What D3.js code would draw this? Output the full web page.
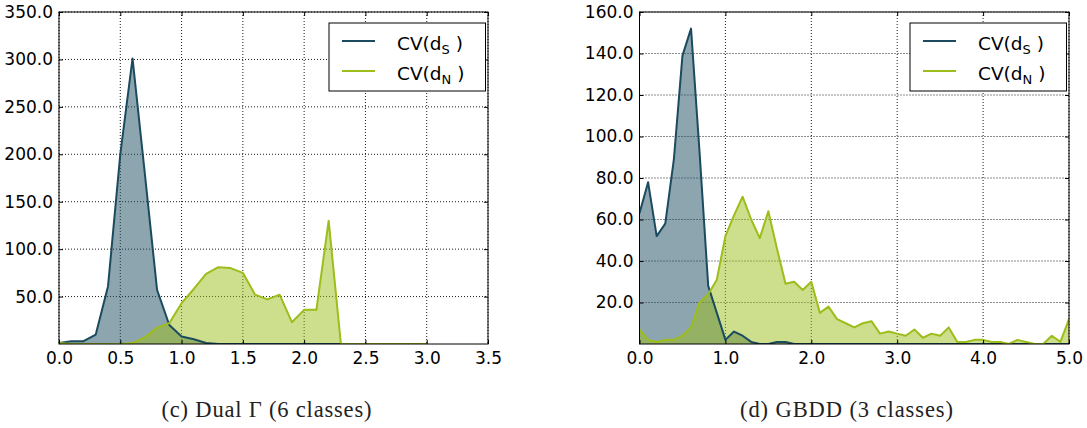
<!DOCTYPE html>
<html>
<head>
<meta charset="utf-8">
<script src="https://cdn.jsdelivr.net/npm/d3@7"></script>
<style>
  html, body { margin: 0; padding: 0; background: #fff; }
  svg { display: block; }
</style>
</head>
<body>
<script>
const w = 1087;
const h = 428;

// left panel: Dual Gamma (6 classes)
const binsLeft = [0.0, 0.1, 0.2, 0.3, 0.4, 0.5, 0.6, 0.7, 0.8, 0.9,
    1.0, 1.1, 1.2, 1.3, 1.4, 1.5, 1.6, 1.7, 1.8, 1.9,
    2.0, 2.1, 2.2, 2.3, 2.4, 2.5, 2.6, 2.7, 2.8, 2.9, 3.0];
const cvSLeft = [1, 3, 3, 10, 61, 200, 301, 180, 57, 20,
    8, 5, 1, 0, 0, 0, 0, 0, 0, 0,
    0, 0, 0, 0, 0, 0, 0, 0, 0, 0, 0];
const cvNLeft = [1, 0, 0, 0, 0, 0, 1, 7, 17, 22,
    43, 58, 74, 81, 80, 75, 52, 47, 52, 23,
    36, 36, 130, 0, 0, 0, 0, 0, 0, 0, 0];
const xTicksLeft = [0.0, 0.5, 1.0, 1.5, 2.0, 2.5, 3.0, 3.5];
const yTicksLeft = [50, 100, 150, 200, 250, 300, 350];

// right panel: GBDD (3 classes)
const binsRight = [0.0, 0.1, 0.2, 0.3, 0.4, 0.5, 0.6, 0.7, 0.8, 0.9,
    1.0, 1.1, 1.2, 1.3, 1.4, 1.5, 1.6, 1.7, 1.8, 1.9,
    2.0, 2.1, 2.2, 2.3, 2.4, 2.5, 2.6, 2.7, 2.8, 2.9,
    3.0, 3.1, 3.2, 3.3, 3.4, 3.5, 3.6, 3.7, 3.8, 3.9,
    4.0, 4.1, 4.2, 4.3, 4.4, 4.5, 4.6, 4.7, 4.8, 4.9, 5.0];
const cvSRight = [63, 78, 52, 58, 89, 139, 152, 92, 28, 15,
    2, 6, 4, 1, 0, 0, 1, 1, 0, 0,
    0, 0, 0, 0, 0, 0, 0, 0, 0, 0,
    0, 0, 0, 0, 0, 0, 0, 0, 0, 0,
    0, 0, 0, 0, 0, 0, 0, 0, 0, 0, 0];
const cvNRight = [7, 2, 1, 2, 2, 4, 8, 20, 24, 31,
    52, 62, 71, 60, 51, 64, 46, 29, 30, 26,
    30, 15, 18, 12, 10, 8, 10, 11, 5, 6,
    5, 4, 7, 3, 5, 4, 8, 1, 1, 2,
    2, 1, 1, 0, 2, 1, 0, 0, 4, 1, 12];
const xTicksRight = [0, 1, 2, 3, 4, 5];
const yTicksRight = [20, 40, 60, 80, 100, 120, 140, 160];

const seriesNames = ["S", "N"];
const captions = ["(c) Dual \u0393 (6 classes)", "(d) GBDD (3 classes)"];

const blue = "#1b4b5e";
const green = "#9cbd1a";

const svg = d3.select("body").append("svg").attr("width", w).attr("height", h);

drawPanel({
    left: 59, right: 488, top: 12, bottom: 344,
    bins: binsLeft, s: cvSLeft, n: cvNLeft,
    xMax: 3.5, yMax: 350, xTicks: xTicksLeft, yTicks: yTicksLeft,
    caption: captions[0], captionX: 266.5, captionLen: 210
});

drawPanel({
    left: 639.5, right: 1069, top: 12, bottom: 344,
    bins: binsRight, s: cvSRight, n: cvNRight,
    xMax: 5, yMax: 160, xTicks: xTicksRight, yTicks: yTicksRight,
    caption: captions[1], captionX: 846.5, captionLen: 213
});

function drawPanel(p) {
    const xScale = d3.scaleLinear().domain([0, p.xMax]).range([p.left, p.right]);
    const yScale = d3.scaleLinear().domain([0, p.yMax]).range([p.bottom, p.top]);
    const g = svg.append("g");

    // grid
    g.selectAll(".vgrid")
        .data(p.xTicks)
        .enter()
        .append("line")
        .attr("x1", d => xScale(d)).attr("x2", d => xScale(d))
        .attr("y1", p.top).attr("y2", p.bottom)
        .attr("stroke", "#000").attr("stroke-width", 0.9)
        .attr("stroke-dasharray", "1,2");
    g.selectAll(".hgrid")
        .data(p.yTicks)
        .enter()
        .append("line")
        .attr("x1", p.left).attr("x2", p.right)
        .attr("y1", d => yScale(d)).attr("y2", d => yScale(d))
        .attr("stroke", "#000").attr("stroke-width", 0.9)
        .attr("stroke-dasharray", "1,2");

    const area = d3.area()
        .x((d, i) => xScale(p.bins[i]))
        .y0(yScale(0))
        .y1(d => yScale(d));
    const line = d3.line()
        .x((d, i) => xScale(p.bins[i]))
        .y(d => yScale(d));

    const clip = "clip" + Math.round(p.left);
    svg.append("clipPath").attr("id", clip)
        .append("rect")
        .attr("x", p.left).attr("y", p.top)
        .attr("width", p.right - p.left).attr("height", p.bottom - p.top);
    const plot = g.append("g").attr("clip-path", "url(#" + clip + ")");

    plot.append("path").datum(p.s).attr("d", area)
        .attr("fill", blue).attr("fill-opacity", 0.5);
    plot.append("path").datum(p.n).attr("d", area)
        .attr("fill", green).attr("fill-opacity", 0.5);
    plot.append("path").datum(p.s).attr("d", line)
        .attr("fill", "none").attr("stroke", blue).attr("stroke-width", 2)
        .attr("stroke-linejoin", "round");
    plot.append("path").datum(p.n).attr("d", line)
        .attr("fill", "none").attr("stroke", green).attr("stroke-width", 2)
        .attr("stroke-linejoin", "round");

    // axes, ticks pointing inwards (matplotlib style)
    const xAxis = d3.axisBottom(xScale).tickValues(p.xTicks)
        .tickFormat(d3.format(".1f")).tickSizeInner(-4).tickSizeOuter(0).tickPadding(8);
    const xAxisTop = d3.axisTop(xScale).tickValues(p.xTicks)
        .tickFormat("").tickSizeInner(-4).tickSizeOuter(0);
    const yAxis = d3.axisLeft(yScale).tickValues(p.yTicks)
        .tickFormat(d3.format(".1f")).tickSizeInner(-4).tickSizeOuter(0).tickPadding(6);
    const yAxisRight = d3.axisRight(yScale).tickValues(p.yTicks)
        .tickFormat("").tickSizeInner(-4).tickSizeOuter(0);

    const axes = [
        [xAxis, "translate(0," + p.bottom + ")"],
        [xAxisTop, "translate(0," + p.top + ")"],
        [yAxis, "translate(" + p.left + ",0)"],
        [yAxisRight, "translate(" + p.right + ",0)"]
    ];
    axes.forEach(a => {
        const ax = g.append("g").attr("transform", a[1]).call(a[0]);
        ax.select(".domain").remove();
        ax.selectAll("line").attr("stroke", "#000");
        ax.selectAll("text")
            .attr("font-family", "DejaVu Sans")
            .attr("font-size", 17)
            .attr("fill", "#000");
    });

    // frame
    g.append("rect")
        .attr("x", p.left).attr("y", p.top)
        .attr("width", p.right - p.left).attr("height", p.bottom - p.top)
        .attr("fill", "none").attr("stroke", "#000").attr("stroke-width", 1);

    // legend
    const lx = p.right - 159;
    const ly = p.top + 11;
    const legend = g.append("g");
    legend.append("rect")
        .attr("x", lx).attr("y", ly).attr("width", 156.5).attr("height", 68)
        .attr("fill", "#fff").attr("stroke", "#000").attr("stroke-width", 1);
    [blue, green].forEach((c, i) => {
        legend.append("line")
            .attr("x1", lx + 13).attr("x2", lx + 46)
            .attr("y1", ly + 18 + i * 30).attr("y2", ly + 18 + i * 30)
            .attr("stroke", c).attr("stroke-width", 2);
        const t = legend.append("text")
            .attr("x", lx + 68).attr("y", ly + 26.5 + i * 30.5)
            .attr("font-family", "DejaVu Sans").attr("font-size", 18.5)
            .attr("fill", "#000");
        t.append("tspan").text("CV(d");
        t.append("tspan").attr("font-size", 13).attr("dy", 4).text(seriesNames[i]);
        t.append("tspan").attr("dy", -4).text("\u00a0)");
    });

    // caption
    svg.append("text")
        .attr("x", p.captionX - p.captionLen / 2)
        .attr("y", 417)
        .attr("font-family", "Liberation Serif")
        .attr("font-size", 22.5)
        .attr("textLength", p.captionLen)
        .attr("lengthAdjust", "spacing")
        .attr("fill", "#222")
        .text(p.caption);
}
</script>
</body>
</html>
